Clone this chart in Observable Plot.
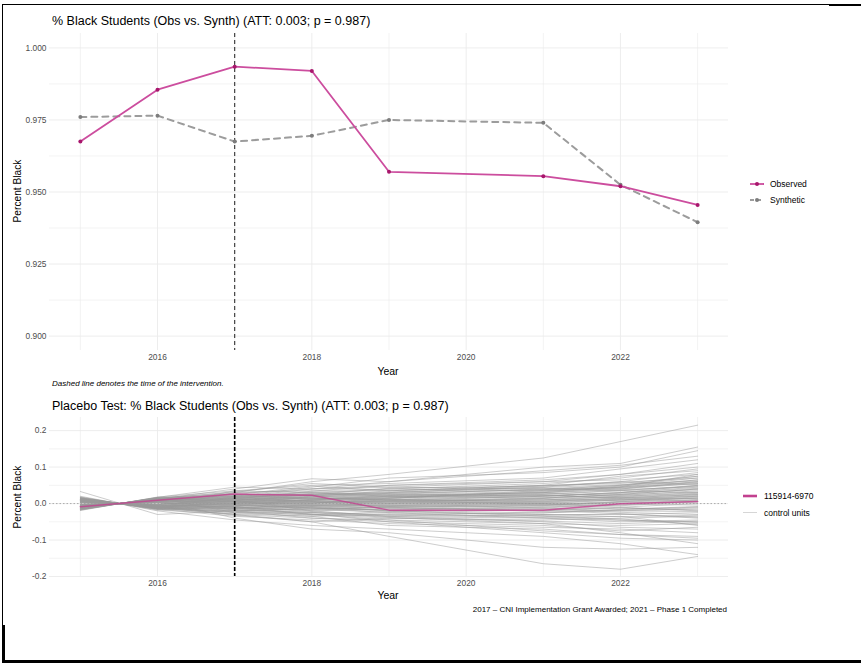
<!DOCTYPE html>
<html><head><meta charset="utf-8">
<script src="https://cdn.jsdelivr.net/npm/d3@7"></script>
<script src="https://cdn.jsdelivr.net/npm/@observablehq/plot@0.6"></script>
<style>
body{margin:0;background:#fff;font-family:"Liberation Sans",Arial,Helvetica,sans-serif;}
#page{position:relative;width:861px;height:663px;overflow:hidden;background:#fff;}
.t{position:absolute;white-space:nowrap;line-height:1;}
.plot{position:absolute;left:0;}
.bar{position:absolute;background:#000;}
</style></head><body><div id="page"></div>
<script>
// ---------- data ----------
const years = [2015, 2016, 2017, 2018, 2019, 2021, 2022, 2023];
const observed  = [0.9675, 0.9855, 0.9935, 0.9920, 0.9570, 0.9555, 0.9520, 0.9455];
const synthetic = [0.9760, 0.9765, 0.9675, 0.9695, 0.9750, 0.9740, 0.9525, 0.9395];
const treatedGap = [-0.0085, 0.0090, 0.0260, 0.0225, -0.0180, -0.0185, -0.0005, 0.0060];
const treatedUnit = "115914-6970";
const controlGaps = [
  [0.010,-0.010,0.030,0.060,0.080,0.125,0.170,0.215],
  [-0.012,0.012,0.040,0.068,0.060,0.100,0.110,0.155],
  [0.015,-0.014,0.020,0.045,0.070,0.085,0.100,0.145],
  [0.005,-0.004,0.035,0.050,0.055,0.070,0.095,0.120],
  [-0.018,0.017,0.045,0.040,0.050,0.060,0.080,0.110],
  [0.012,-0.012,-0.030,-0.050,-0.090,-0.165,-0.180,-0.145],
  [-0.008,0.008,-0.040,-0.070,-0.080,-0.120,-0.125,-0.120],
  [0.020,-0.020,-0.045,-0.060,-0.070,-0.090,-0.110,-0.140],
  [0.033,-0.030,-0.020,-0.040,-0.050,-0.080,-0.095,-0.100],
  [-0.015,0.015,-0.025,-0.035,-0.060,-0.070,-0.085,-0.090],
  [0.008,-0.008,0.015,0.025,0.030,0.045,0.060,0.085],
  [-0.010,0.010,0.010,0.020,0.035,0.050,0.055,0.075],
  [0.012,-0.011,0.005,0.010,0.020,0.030,0.045,0.065],
  [-0.005,0.005,0.020,0.030,0.025,0.040,0.040,0.055],
  [0.014,-0.013,-0.005,0.000,0.015,0.025,0.035,0.050],
  [-0.013,0.013,0.025,0.015,0.010,0.020,0.030,0.045],
  [0.006,-0.006,0.000,0.005,0.005,0.015,0.025,0.040],
  [-0.016,0.015,0.030,0.035,0.040,0.035,0.045,0.060],
  [0.010,-0.010,-0.010,-0.005,0.000,0.010,0.020,0.030],
  [-0.007,0.007,0.012,0.008,0.012,0.005,0.015,0.025],
  [0.004,-0.004,-0.015,-0.010,-0.005,0.000,0.010,0.020],
  [-0.011,0.011,0.018,0.022,0.018,0.028,0.022,0.035],
  [0.017,-0.016,-0.020,-0.015,-0.010,-0.005,0.005,0.015],
  [-0.003,0.003,0.008,0.000,-0.005,-0.010,0.000,0.010],
  [0.009,-0.009,-0.008,-0.020,-0.015,-0.020,-0.010,0.000],
  [-0.014,0.014,0.022,0.012,0.005,-0.005,-0.015,-0.010],
  [0.011,-0.010,-0.025,-0.025,-0.030,-0.025,-0.020,-0.015],
  [-0.006,0.006,0.003,-0.008,-0.020,-0.030,-0.030,-0.025],
  [0.013,-0.012,-0.012,-0.030,-0.040,-0.045,-0.040,-0.035],
  [-0.009,0.009,-0.002,-0.012,-0.025,-0.040,-0.050,-0.045],
  [0.007,-0.007,-0.030,-0.040,-0.045,-0.055,-0.060,-0.055],
  [-0.017,0.016,0.010,-0.020,-0.035,-0.050,-0.065,-0.070],
  [0.015,-0.015,-0.035,-0.045,-0.055,-0.065,-0.070,-0.080],
  [-0.004,0.004,-0.018,-0.028,-0.050,-0.060,-0.075,-0.065],
  [0.003,-0.003,0.016,0.028,0.040,0.055,0.070,0.095],
  [-0.012,0.012,0.028,0.040,0.045,0.060,0.065,0.080],
  [0.010,-0.009,0.002,0.018,0.028,0.038,0.050,0.070],
  [-0.008,0.008,0.024,0.048,0.035,0.050,0.075,0.090],
  [0.016,-0.015,-0.006,0.012,0.022,0.030,0.040,0.060],
  [-0.019,0.018,0.035,0.030,0.020,0.015,0.025,0.040],
  [0.002,-0.002,0.006,0.014,0.012,0.022,0.030,0.050],
  [-0.010,0.010,0.014,0.004,-0.002,0.008,0.012,0.022],
  [0.012,-0.012,-0.016,-0.006,0.004,0.012,0.008,0.018],
  [-0.002,0.002,-0.004,-0.014,-0.008,-0.002,-0.006,0.005],
  [0.008,-0.008,-0.020,-0.032,-0.022,-0.014,-0.024,-0.030],
  [-0.015,0.015,0.004,-0.004,-0.012,-0.018,-0.028,-0.040],
  [0.018,-0.018,-0.028,-0.035,-0.028,-0.035,-0.045,-0.050],
  [-0.005,0.005,-0.010,-0.022,-0.032,-0.038,-0.035,-0.060],
  [0.006,-0.006,0.008,0.020,0.010,0.000,-0.010,-0.020],
  [-0.013,0.013,0.020,0.026,0.032,0.042,0.035,0.030],
  [0.014,-0.014,-0.012,-0.002,0.008,0.020,0.028,0.038],
  [-0.009,0.009,0.006,0.010,0.015,0.032,0.048,0.065],
  [0.004,-0.005,0.012,0.034,0.050,0.065,0.080,0.100],
  [-0.016,0.016,0.026,0.022,0.030,0.048,0.058,0.070],
  [0.011,-0.011,-0.022,-0.012,-0.018,-0.008,0.004,0.002],
  [-0.007,0.007,0.000,0.006,-0.010,-0.022,-0.018,-0.012],
  [0.009,-0.009,-0.032,-0.050,-0.040,-0.048,-0.055,-0.048],
  [-0.011,0.011,-0.008,-0.030,-0.045,-0.075,-0.085,-0.095],
  [0.005,-0.005,0.018,0.040,0.060,0.090,0.105,0.130],
  [-0.003,0.003,-0.014,-0.025,-0.038,-0.055,-0.080,-0.110],
  [0.012,-0.012,0.010,0.024,0.042,0.048,0.060,0.052],
  [-0.014,0.014,0.032,0.055,0.045,0.040,0.050,0.075],
  [0.007,-0.007,-0.002,0.002,0.010,0.006,0.016,0.012],
  [-0.006,0.006,0.016,0.008,0.000,-0.012,-0.004,0.008],
  [0.010,-0.010,0.006,0.016,0.024,0.034,0.042,0.058],
  [-0.012,0.012,0.018,0.012,0.020,0.026,0.036,0.048],
  [0.007,-0.007,-0.006,0.004,0.002,0.014,0.020,0.028],
  [-0.004,0.004,0.010,0.018,0.026,0.020,0.030,0.042],
  [0.013,-0.013,-0.014,-0.018,-0.010,-0.004,0.004,0.010],
  [-0.009,0.009,0.004,-0.006,-0.014,-0.012,-0.020,-0.022],
  [0.003,-0.003,-0.010,-0.016,-0.024,-0.030,-0.036,-0.032],
  [-0.015,0.015,0.014,0.006,0.006,0.016,0.024,0.032],
  [0.016,-0.016,-0.018,-0.024,-0.036,-0.040,-0.046,-0.052],
  [-0.006,0.006,0.022,0.032,0.036,0.044,0.052,0.062],
  [0.009,-0.009,0.000,0.010,0.018,0.024,0.014,0.020],
  [-0.011,0.011,0.012,0.016,0.008,-0.002,0.006,0.016],
  [0.005,-0.005,-0.004,-0.010,-0.018,-0.026,-0.016,-0.008],
  [-0.002,0.002,0.002,0.008,0.014,0.036,0.044,0.055],
  [0.011,-0.011,-0.008,-0.004,-0.006,0.002,-0.002,-0.004],
  [-0.013,0.013,0.008,0.002,0.010,0.010,0.018,0.026],
  [0.014,-0.014,-0.024,-0.030,-0.034,-0.032,-0.028,-0.038],
  [-0.008,0.008,0.016,0.026,0.022,0.030,0.038,0.046],
  [0.006,-0.006,-0.012,-0.008,-0.002,0.004,0.012,0.006],
  [-0.010,0.010,0.006,-0.002,-0.008,-0.016,-0.012,-0.018],
  [0.002,-0.002,0.014,0.022,0.028,0.038,0.046,0.080],
  [-0.017,0.017,0.020,0.014,0.016,0.022,0.016,0.024],
  [0.010,-0.010,-0.002,-0.012,-0.020,-0.034,-0.042,-0.058],
  [-0.005,0.005,0.010,0.004,0.004,0.002,0.010,0.014]
];
const interventionYear = 2017;
const xTicks = [2016, 2018, 2020, 2022];
const xMinor = [2015, 2017, 2019, 2021, 2023];
const topYTicks = [0.900, 0.925, 0.950, 0.975, 1.000];
const topYMinor = [0.9125, 0.9375, 0.9625, 0.9875];
const bottomYTicks = [-0.2, -0.1, 0.0, 0.1, 0.2];
const bottomYMinor = [-0.15, -0.05, 0.05, 0.15];

// ---------- tables ----------
const obsRows = years.map((year, i) => ({year, value: observed[i]}));
const synRows = years.map((year, i) => ({year, value: synthetic[i]}));
const treatedRows = years.map((year, i) => ({year, gap: treatedGap[i]}));
const controlRows = controlGaps.flatMap((row, u) => years.map((year, i) => ({unit: u, year, gap: row[i]})));

const page = document.getElementById("page");
const FONT = '"Liberation Sans", Arial, Helvetica, sans-serif';
const OBS_COLOR = "#cc4d9e", OBS_DOT = "#a8166c", SYN_COLOR = "#9c9c9c", SYN_DOT = "#7d7d7d";
const GRID = "#ebebeb";

function text(str, x, y, o = {}) {
  const d = document.createElement("div");
  d.className = "t";
  d.textContent = str;
  d.style.left = x + "px";
  d.style.top = y + "px";
  d.style.fontSize = (o.size || 10) + "px";
  d.style.color = o.color || "#000";
  if (o.italic) d.style.fontStyle = "italic";
  const ax = o.anchor === "middle" ? "-50%" : o.anchor === "end" ? "-100%" : "0";
  d.style.transform = `translate(${ax},-50%)`;
  page.appendChild(d);
  return d;
}
function rotText(str, cx, cy, size) {
  const d = document.createElement("div");
  d.className = "t";
  d.textContent = str;
  d.style.fontSize = size + "px";
  d.style.left = cx + "px";
  d.style.top = cy + "px";
  d.style.transform = "translate(-50%,-50%) rotate(-90deg)";
  page.appendChild(d);
}
function place(svg, top) {
  svg.classList.add("plot");
  svg.style.top = top + "px";
  page.appendChild(svg);
}

// ---------- top panel ----------
const topPlot = Plot.plot({
  width: 740, height: 350,
  marginLeft: 49, marginRight: 12, marginTop: 5, marginBottom: 28,
  style: {fontFamily: FONT, fontSize: "8.4px", color: "#4d4d4d", background: "transparent", overflow: "visible"},
  x: {domain: [2014.6, 2023.4]},
  y: {domain: [0.895, 1.005]},
  marks: [
    Plot.ruleY(topYMinor, {stroke: GRID, strokeWidth: 0.6}),
    Plot.ruleY(topYTicks, {stroke: GRID, strokeWidth: 0.9}),
    Plot.ruleX(xMinor, {stroke: GRID, strokeWidth: 0.6}),
    Plot.ruleX(xTicks, {stroke: GRID, strokeWidth: 0.9}),
    Plot.line(synRows, {x: "year", y: "value", stroke: SYN_COLOR, strokeWidth: 2, strokeDasharray: "6,5"}),
    Plot.line(obsRows, {x: "year", y: "value", stroke: OBS_COLOR, strokeWidth: 1.8}),
    Plot.ruleX([interventionYear], {stroke: "#333", strokeWidth: 1.1, strokeDasharray: "4,3"}),
    Plot.dot(synRows, {x: "year", y: "value", r: 2, fill: SYN_DOT}),
    Plot.dot(obsRows, {x: "year", y: "value", r: 2, fill: OBS_DOT}),
    Plot.axisX({ticks: xTicks, tickSize: 0, tickPadding: 4, tickFormat: d => String(d), label: null}),
    Plot.axisY({ticks: topYTicks, tickSize: 0, tickPadding: 3, tickFormat: d3.format(".3f"), label: null})
  ]
});
place(topPlot, 28);

// ---------- bottom panel ----------
const bottomPlot = Plot.plot({
  width: 740, height: 190,
  marginLeft: 49, marginRight: 12, marginTop: 7, marginBottom: 24,
  style: {fontFamily: FONT, fontSize: "8.4px", color: "#4d4d4d", background: "transparent", overflow: "visible"},
  x: {domain: [2014.6, 2023.4]},
  y: {domain: [-0.2, 0.236]},
  marks: [
    Plot.ruleY(bottomYMinor, {stroke: GRID, strokeWidth: 0.6}),
    Plot.ruleY(bottomYTicks, {stroke: GRID, strokeWidth: 0.9}),
    Plot.ruleX(xMinor, {stroke: GRID, strokeWidth: 0.6}),
    Plot.ruleX(xTicks, {stroke: GRID, strokeWidth: 0.9}),
    Plot.ruleY([0], {stroke: "#9a9a9a", strokeWidth: 0.8, strokeDasharray: "1.5,2"}),
    Plot.line(controlRows, {x: "year", y: "gap", z: "unit", stroke: "#999", strokeOpacity: 0.55, strokeWidth: 0.9}),
    Plot.line(treatedRows, {x: "year", y: "gap", stroke: "#c2408f", strokeOpacity: 0.8, strokeWidth: 1.5}),
    Plot.ruleX([interventionYear], {stroke: "#000", strokeWidth: 1.6, strokeDasharray: "4,2"}),
    Plot.axisX({ticks: xTicks, tickSize: 0, tickPadding: 4, tickFormat: d => String(d), label: null}),
    Plot.axisY({ticks: bottomYTicks, tickSize: 0, tickPadding: 3, tickFormat: d => d.toFixed(1), label: null})
  ]
});
place(bottomPlot, 410);

// ---------- texts ----------
text("% Black Students (Obs vs. Synth) (ATT: 0.003; p = 0.987)", 52, 21, {size: 12.5});
rotText("Percent Black", 18, 191, 10.2);
text("Year", 388, 370.5, {size: 10.5, anchor: "middle"});
text("Dashed line denotes the time of the intervention.", 52, 383.5, {size: 8, italic: true});
text("Placebo Test: % Black Students (Obs vs. Synth) (ATT: 0.003; p = 0.987)", 52, 405.5, {size: 12.5});
rotText("Percent Black", 18, 497, 10.2);
text("Year", 388, 595, {size: 10.5, anchor: "middle"});
text("2017 \u2013 CNI Implementation Grant Awarded; 2021 \u2013 Phase 1 Completed", 727, 610, {size: 8, anchor: "end"});

// ---------- legends ----------
function legendSvg(x, y, w, h, inner) {
  const s = document.createElementNS("http://www.w3.org/2000/svg", "svg");
  s.setAttribute("width", w); s.setAttribute("height", h);
  s.style.position = "absolute"; s.style.left = x + "px"; s.style.top = y + "px";
  s.innerHTML = inner;
  page.appendChild(s);
}
legendSvg(748, 176, 18, 32,
  `<line x1="2" y1="8" x2="16" y2="8" stroke="${OBS_COLOR}" stroke-width="1.8"/>
   <circle cx="9" cy="8" r="2" fill="${OBS_DOT}"/>
   <line x1="2" y1="24" x2="16" y2="24" stroke="${SYN_COLOR}" stroke-width="2" stroke-dasharray="4,3"/>
   <circle cx="9" cy="24" r="2" fill="${SYN_DOT}"/>`);
text("Observed", 770, 184, {size: 8.5});
text("Synthetic", 770, 200, {size: 8.5});

legendSvg(741, 488, 20, 32,
  `<line x1="2" y1="8" x2="16" y2="8" stroke="#c2408f" stroke-width="2.6"/>
   <line x1="2" y1="24.5" x2="16" y2="24.5" stroke="#d6d6d6" stroke-width="1"/>`);
text(treatedUnit, 764, 496, {size: 8.5});
text("control units", 764, 512.5, {size: 8.5});

// ---------- photo frame ----------
function bar(l, t, w, h) {
  const d = document.createElement("div");
  d.className = "bar";
  Object.assign(d.style, {left: l + "px", top: t + "px", width: w + "px", height: h + "px"});
  page.appendChild(d);
}
bar(2, 4, 858, 1);
bar(829, 4, 32, 2);
bar(2, 4, 1, 621);
bar(2, 625, 3, 38);
bar(2, 660, 859, 3);
</script>
</body></html>
